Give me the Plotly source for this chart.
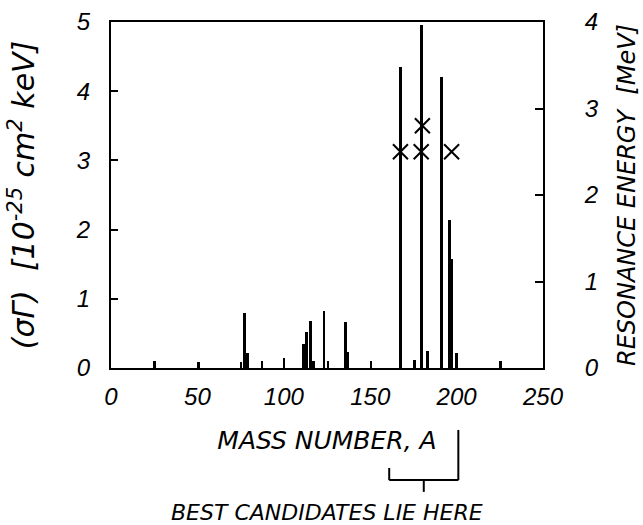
import plotly.graph_objects as go

# Bars: mass number A and (sigma Gamma) in 1e-25 cm^2 keV
mass_numbers = [25, 50.5, 75.2, 77.3, 79, 87.4, 100.1, 111.5, 113.2, 115.4, 117.3,
                123.3, 125.6, 135.6, 137.2, 150.5, 167.5, 175.5, 179.7, 183.3,
                191.4, 195.8, 197.1, 200, 225.5]
sigma_gamma = [0.1, 0.09, 0.08, 0.79, 0.21, 0.1, 0.15, 0.34, 0.52, 0.68, 0.1,
               0.83, 0.1, 0.67, 0.23, 0.1, 4.35, 0.12, 4.95, 0.25,
               4.2, 2.14, 1.57, 0.21, 0.1]

# Crosses: resonance energy (MeV) for best candidates
cand_mass = [167.5, 179.5, 180.2, 197.1]
cand_energy = [2.5, 2.5, 2.8, 2.5]

x_ticks = [0, 50, 100, 150, 200, 250]
y_ticks = [0, 1, 2, 3, 4, 5]
y2_ticks = [0, 1, 2, 3, 4]

FONT = "Liberation Sans"
TXT = "DejaVu Sans"

fig = go.Figure()
fig.add_trace(go.Bar(x=mass_numbers, y=sigma_gamma, width=1.5,
                     marker=dict(color="black", line=dict(width=0)),
                     showlegend=False, yaxis="y"))
fig.add_trace(go.Scatter(x=cand_mass, y=cand_energy, mode="markers", yaxis="y2",
                         marker=dict(symbol="x-thin", size=15, color="black",
                                     line=dict(color="black", width=2)),
                         showlegend=False))

tickfont = dict(family=FONT, size=24, color="black", style="italic")
titlefont = dict(family=TXT, size=23, color="black", style="italic")

fig.update_layout(
    width=643, height=525,
    margin=dict(l=111, r=100, t=22, b=157),
    paper_bgcolor="white", plot_bgcolor="white",
    bargap=0,
    xaxis=dict(range=[0, 250], tickvals=x_ticks, showgrid=False, zeroline=False,
               showline=True, linecolor="black", linewidth=2, mirror=True,
               ticks="", tickfont=tickfont, ticklabelstandoff=6, automargin=False,
               title=dict(text="MASS NUMBER, A", font=dict(titlefont, size=25), standoff=23)),
    yaxis=dict(range=[0, 5], tickvals=y_ticks, showgrid=False, zeroline=False,
               showline=True, linecolor="black", linewidth=2,
               ticks="inside", ticklen=7, tickwidth=2, tickcolor="black",
               tickfont=tickfont, ticklabelstandoff=14, automargin=False,
               title=dict(text="(σΓ)  [10<sup>-25</sup> cm<sup>2</sup> keV]",
                          font=dict(titlefont, size=30), standoff=32)),
    yaxis2=dict(range=[0, 4], tickvals=y2_ticks, overlaying="y", side="right",
                showgrid=False, zeroline=False,
                showline=True, linecolor="black", linewidth=2,
                ticks="inside", ticklen=8, tickwidth=2, tickcolor="black",
                tickfont=tickfont, ticklabelstandoff=35, automargin=False,
                title=dict(text="RESONANCE ENERGY  [MeV]", font=dict(titlefont, size=24),
                           standoff=20)),
)

# Bracket marking the best candidates region
line = dict(color="black", width=2)
fig.add_shape(type="line", xref="x", yref="paper", x0=201, x1=201, y0=-0.179, y1=-0.324, line=line)
fig.add_shape(type="line", xref="x", yref="paper", x0=161, x1=161, y0=-0.289, y1=-0.324, line=line)
fig.add_shape(type="line", xref="x", yref="paper", x0=161, x1=201, y0=-0.324, y1=-0.324, line=line)
fig.add_shape(type="line", xref="x", yref="paper", x0=181, x1=181, y0=-0.324, y1=-0.358, line=line)
fig.add_annotation(text="BEST CANDIDATES LIE HERE", xref="paper", yref="paper",
                   x=0.5, y=-0.418, xanchor="center", yanchor="middle",
                   showarrow=False, font=dict(titlefont, size=22))

# remove the default page margin so the figure sits at the window's corner
fig.write_html("out.html", config={"displayModeBar": False},
               post_script="document.body.style.margin='0';")
